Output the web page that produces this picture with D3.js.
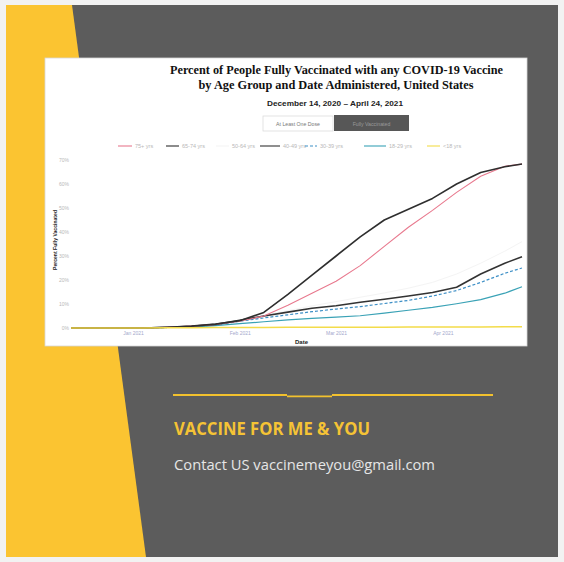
<!DOCTYPE html>
<html>
<head>
<meta charset="utf-8">
<script src="https://cdn.jsdelivr.net/npm/d3@7"></script>
<style>
  html, body { margin: 0; padding: 0; background: #f2f2f2; }
  svg { display: block; }
</style>
</head>
<body>
<svg id="flyer" width="564" height="562"></svg>
<script>
// Weekly observation dates
const dates = ["2020-12-14", "2020-12-21", "2020-12-28", "2021-01-04", "2021-01-11",
  "2021-01-18", "2021-01-25", "2021-02-01", "2021-02-08", "2021-02-15", "2021-02-22",
  "2021-03-01", "2021-03-08", "2021-03-15", "2021-03-22", "2021-03-29", "2021-04-05",
  "2021-04-12", "2021-04-19", "2021-04-24"];

// Percent fully vaccinated by age group
const age75plus  = [0, 0, 0, 0, 0.3, 0.8, 1.5, 2.8, 5.0, 9.5, 14.5, 19.5, 26.0, 34.0, 42.0, 49.0, 56.5, 63.2, 67.4, 68.3];
const age65to74  = [0, 0, 0, 0, 0.3, 0.8, 1.6, 3.0, 6.5, 14.0, 22.0, 30.0, 38.0, 45.0, 49.5, 54.0, 60.0, 64.8, 67.2, 68.3];
const age50to64  = [0, 0, 0, 0, 0.3, 0.7, 1.5, 3.1, 5.2, 7.2, 9.2, 11.0, 12.8, 14.6, 16.6, 19.0, 22.5, 27.0, 32.0, 36.0];
const age40to49  = [0, 0, 0, 0, 0.3, 0.7, 1.5, 3.2, 5.0, 6.6, 8.2, 9.3, 10.7, 12.0, 13.3, 14.8, 17.0, 22.5, 27.0, 29.7];
const age30to39  = [0, 0, 0, 0, 0.2, 0.6, 1.3, 2.8, 4.2, 5.5, 6.8, 7.9, 8.9, 10.2, 11.5, 13.3, 15.6, 19.0, 22.8, 25.0];
const age18to29  = [0, 0, 0, 0, 0.2, 0.4, 1.0, 1.8, 2.6, 3.4, 4.0, 4.5, 5.1, 6.2, 7.4, 8.6, 10.1, 11.8, 14.5, 17.2];
const ageUnder18 = [0, 0, 0, 0, 0.1, 0.1, 0.2, 0.2, 0.2, 0.3, 0.3, 0.3, 0.3, 0.3, 0.4, 0.4, 0.4, 0.4, 0.5, 0.5];

const seriesNames = ["75+ yrs", "65-74 yrs", "50-64 yrs", "40-49 yrs", "30-39 yrs", "18-29 yrs", "<18 yrs"];
const yTickValues = [0, 10, 20, 30, 40, 50, 60, 70];
const xTickDates = ["2021-01-01", "2021-02-01", "2021-03-01", "2021-04-01"];

const titleLines = ["Percent of People Fully Vaccinated with any COVID-19 Vaccine",
                    "by Age Group and Date Administered, United States"];
const subtitle = "December 14, 2020 \u2013 April 24, 2021";
const buttonLabels = ["At Least One Dose", "Fully Vaccinated"];

const parse = d3.timeParse("%Y-%m-%d");

const series = [
  { name: seriesNames[0], values: age75plus,  color: "#e8798e", width: 1.1, dash: null },
  { name: seriesNames[1], values: age65to74,  color: "#2e2e2e", width: 1.6, dash: null },
  { name: seriesNames[2], values: age50to64,  color: "#f4f4f4", width: 1.0, dash: null },
  { name: seriesNames[3], values: age40to49,  color: "#333333", width: 1.6, dash: null },
  { name: seriesNames[4], values: age30to39,  color: "#3d8fc6", width: 1.2, dash: "3,2" },
  { name: seriesNames[5], values: age18to29,  color: "#3aa2b6", width: 1.2, dash: null },
  { name: seriesNames[6], values: ageUnder18, color: "#f3dc4a", width: 1.6, dash: null }
];

const svg = d3.select("#flyer");

// ---- background panels ----
svg.append("rect").attr("x", 0).attr("y", 0).attr("width", 564).attr("height", 562).attr("fill", "#f2f2f2");
svg.append("rect").attr("x", 6).attr("y", 5).attr("width", 552).attr("height", 552).attr("fill", "#fbc431");
svg.append("polygon")
  .attr("points", "72,5 558,5 558,557 146,557")
  .attr("fill", "#5c5c5c");

// ---- chart card ----
svg.append("rect")
  .attr("x", 45).attr("y", 58).attr("width", 482).attr("height", 288)
  .attr("fill", "#ffffff").attr("stroke", "#d8d8d8").attr("stroke-width", 0.8);

function fitText(sel, len) {
  return sel.attr("textLength", len).attr("lengthAdjust", "spacingAndGlyphs");
}

const card = svg.append("g");
card.append("text").attr("x", 336.5).attr("y", 74).attr("text-anchor", "middle")
  .attr("font-family", "Liberation Serif, Times New Roman, serif").attr("font-weight", "bold")
  .attr("font-size", 12).attr("fill", "#111").text(titleLines[0]).call(fitText, 333);
card.append("text").attr("x", 336).attr("y", 89).attr("text-anchor", "middle")
  .attr("font-family", "Liberation Serif, Times New Roman, serif").attr("font-weight", "bold")
  .attr("font-size", 12).attr("fill", "#111").text(titleLines[1]).call(fitText, 275);
card.append("text").attr("x", 335).attr("y", 106).attr("text-anchor", "middle")
  .attr("font-family", "Liberation Sans Narrow, Liberation Sans, Arial, sans-serif").attr("font-weight", "bold")
  .attr("font-size", 8).attr("fill", "#222").text(subtitle).call(fitText, 136);

// toggle buttons
card.append("rect").attr("x", 263).attr("y", 116).attr("width", 70).attr("height", 15)
  .attr("fill", "#fff").attr("stroke", "#dcdcdc").attr("stroke-width", 0.8);
card.append("text").attr("x", 298).attr("y", 125.8).attr("text-anchor", "middle")
  .attr("font-family", "Liberation Sans, Arial, sans-serif").attr("font-size", 5.2)
  .attr("fill", "#777").text(buttonLabels[0]);
card.append("rect").attr("x", 334).attr("y", 115).attr("width", 75).attr("height", 16)
  .attr("fill", "#575757");
card.append("text").attr("x", 371.5).attr("y", 125.5).attr("text-anchor", "middle")
  .attr("font-family", "Liberation Sans, Arial, sans-serif").attr("font-size", 5.2)
  .attr("fill", "#9a9a9a").text(buttonLabels[1]);

// ---- legend ----
const legendPos = [
  { sx: 118, tx: 135 }, { sx: 166, tx: 182 }, { sx: 216, tx: 232 },
  { sx: 260, tx: 283 }, { sx: 305, tx: 320 }, { sx: 364, tx: 389 }, { sx: 427, tx: 443 }
];
const legend = card.append("g").attr("font-family", "Liberation Sans, Arial, sans-serif")
  .attr("font-size", 5.5).attr("fill", "#b8b8b8");
series.forEach((s, i) => {
  const p = legendPos[i];
  legend.append("line").attr("x1", p.sx).attr("x2", p.tx - 3).attr("y1", 146).attr("y2", 146)
    .attr("stroke", s.color).attr("stroke-width", 1.1)
    .attr("stroke-dasharray", s.dash);
  legend.append("text").attr("x", p.tx).attr("y", 148).text(s.name);
});

// ---- plot ----
const x = d3.scaleTime()
  .domain([parse(dates[0]), parse(dates[dates.length - 1])])
  .range([71, 522]);
const y = d3.scaleLinear().domain([0, 70]).range([328, 160]);

const yAxis = d3.axisLeft(y).tickValues(yTickValues).tickSize(0).tickPadding(0)
  .tickFormat(d => d + "%");
const gy = card.append("g").attr("transform", "translate(69,0)").call(yAxis);
gy.select(".domain").remove();
gy.selectAll("text").attr("font-family", "Liberation Sans, Arial, sans-serif")
  .attr("font-size", 5).attr("fill", "#b8b8b8");

const xAxis = d3.axisBottom(x).tickValues(xTickDates.map(parse)).tickSize(0).tickPadding(0)
  .tickFormat(d3.timeFormat("%b %Y"));
const gx = card.append("g").attr("transform", "translate(0,331)").call(xAxis);
gx.select(".domain").remove();
gx.selectAll("text").attr("font-family", "Liberation Sans, Arial, sans-serif")
  .attr("font-size", 5).attr("fill", "#a4a8cc");

card.append("text").attr("transform", "translate(57,240) rotate(-90)").attr("text-anchor", "middle")
  .attr("font-family", "Liberation Sans, Arial, sans-serif").attr("font-weight", "bold")
  .attr("font-size", 5.2).attr("fill", "#222").text("Percent Fully Vaccinated").call(fitText, 60);
card.append("text").attr("x", 301.5).attr("y", 343.5).attr("text-anchor", "middle")
  .attr("font-family", "Liberation Sans, Arial, sans-serif").attr("font-weight", "bold")
  .attr("font-size", 6).attr("fill", "#222").text("Date");

const line = d3.line().x(d => x(d.date)).y(d => y(d.value));
const drawOrder = [2, 5, 4, 3, 0, 1, 6];
drawOrder.forEach(i => {
  const s = series[i];
  const pts = dates.map((d, k) => ({ date: parse(d), value: s.values[k] }));
  card.append("path").datum(pts).attr("d", line)
    .attr("fill", "none").attr("stroke", s.color).attr("stroke-width", s.width)
    .attr("stroke-dasharray", s.dash).attr("stroke-linejoin", "round");
});

// ---- footer ----
const footer = svg.append("g");
footer.append("line").attr("x1", 173).attr("x2", 287).attr("y1", 395).attr("y2", 395)
  .attr("stroke", "#f2c12e").attr("stroke-width", 2.2);
footer.append("line").attr("x1", 287).attr("x2", 332).attr("y1", 396.3).attr("y2", 396.3)
  .attr("stroke", "#f2c12e").attr("stroke-width", 1.8);
footer.append("line").attr("x1", 332).attr("x2", 493).attr("y1", 395).attr("y2", 395)
  .attr("stroke", "#f2c12e").attr("stroke-width", 2.2);

footer.append("text").attr("x", 174).attr("y", 435)
  .attr("font-family", "Open Sans, Liberation Sans, sans-serif").attr("font-weight", "bold")
  .attr("font-size", 17).attr("fill", "#f5c335").text("VACCINE FOR ME & YOU").call(fitText, 196);
footer.append("text").attr("x", 174).attr("y", 470)
  .attr("font-family", "Open Sans, Liberation Sans, sans-serif")
  .attr("font-size", 14).attr("fill", "#e6e6e6").text("Contact US vaccinemeyou@gmail.com").call(fitText, 261);
</script>
</body>
</html>
